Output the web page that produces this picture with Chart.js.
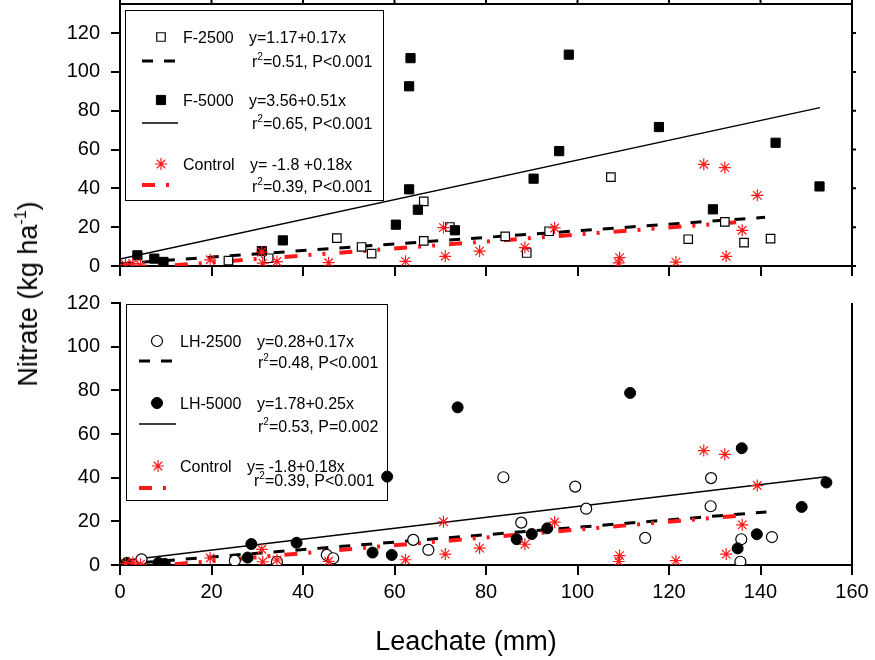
<!DOCTYPE html>
<html>
<head>
<meta charset="utf-8">
<title>Nitrate vs leachate</title>
<script src="https://cdn.jsdelivr.net/npm/chart.js@4.4.0/dist/chart.umd.min.js"></script>
<style>
  body { margin: 0; background: #fff; }
  #wrap { position: relative; width: 875px; height: 660px; overflow: hidden;
          font-family: "Liberation Sans", Arial, sans-serif; color: #000; }
  canvas { position: absolute; left: 0; }
  #topChart { top: -20px; }
  #bottomChart { top: 280px; }
  .axisTitle { position: absolute; font-size: 27px; line-height: 30px; white-space: nowrap; }
  .axisTitle sup { font-size: 16px; line-height: 0; vertical-align: 11px; }
  #yTitle { left: 28px; top: 294px; transform: translate(-50%, -50%) rotate(-90deg); }
  #xTitle { left: 466px; top: 641px; transform: translate(-50%, -50%); }
</style>
</head>
<body>
<div id="wrap">
  <canvas id="topChart" width="875" height="320"></canvas>
  <canvas id="bottomChart" width="875" height="380"></canvas>
  <div id="yTitle" class="axisTitle">Nitrate (kg ha<sup>-1</sup>)</div>
  <div id="xTitle" class="axisTitle">Leachate (mm)</div>
</div>
<script>
// values
const xTicks = [0, 20, 40, 60, 80, 100, 120, 140, 160];
const yTicks = [0, 20, 40, 60, 80, 100, 120];

// control (same points in both panels)
const controlX = [1.2, 2.8, 4.5, 19.7, 31.0, 31.2, 34.3, 45.6, 62.4, 70.7, 71.1, 78.6, 88.5, 95.0, 109.2, 109.0, 121.5, 127.6, 132.2, 139.3, 136.0, 132.5];
const controlY = [0.8, 1.2, 0.4, 3.2, 7.2, 1.5, 2.3, 1.7, 2.4, 19.8, 5.0, 7.7, 9.5, 19.6, 4.3, 1.6, 2.0, 52.4, 50.7, 36.4, 18.4, 5.0];

// top panel
const f2500X = [23.7, 32.5, 47.4, 52.8, 55.0, 66.4, 66.4, 72.1, 84.2, 88.9, 93.8, 107.3, 124.2, 132.2, 136.4, 142.2];
const f2500Y = [2.8, 4.0, 14.4, 9.8, 6.4, 33.3, 12.9, 20.1, 15.3, 6.7, 17.9, 45.8, 13.8, 22.7, 12.0, 14.1];
const f5000X = [3.8, 7.5, 9.5, 31.0, 35.6, 60.3, 63.2, 63.5, 63.2, 65.1, 73.2, 90.4, 96.0, 98.1, 117.8, 129.6, 143.3, 152.9];
const f5000Y = [5.5, 3.8, 2.1, 7.7, 13.2, 21.3, 92.6, 107.1, 39.5, 29.0, 18.4, 45.0, 59.2, 108.9, 71.6, 29.2, 63.5, 41.0];

// bottom panel
const lh2500X = [4.7, 25.1, 34.3, 45.2, 46.6, 64.1, 67.4, 83.8, 87.7, 99.5, 101.9, 114.8, 129.2, 129.1, 135.8, 135.6, 142.5];
const lh2500Y = [2.6, 2.0, 1.5, 4.6, 3.1, 11.5, 6.9, 40.2, 19.4, 35.9, 25.8, 12.4, 39.8, 26.9, 11.8, 1.5, 12.8];
const lh5000X = [1.5, 8.4, 9.8, 27.9, 28.7, 38.6, 55.2, 58.4, 59.4, 73.8, 86.7, 90.0, 93.4, 111.5, 135.0, 135.9, 139.2, 149.0, 154.4];
const lh5000Y = [1.0, 1.0, 0.5, 3.4, 9.6, 10.2, 5.7, 40.5, 4.6, 72.2, 11.8, 14.2, 16.8, 78.8, 7.6, 53.5, 14.1, 26.6, 37.8];

// regression lines, end points
const fitF2500X = [0, 141], fitF2500Y = [1.17, 25.1];
const fitF5000X = [0, 153], fitF5000Y = [3.56, 81.6];
const fitControlX = [0, 137], fitControlY = [-1.8, 22.9];
const fitLH2500X = [0, 141.3], fitLH2500Y = [0.28, 24.3];
const fitLH5000X = [0, 154.4], fitLH5000Y = [1.78, 40.4];

// legend texts
const topLabels = ['F-2500', 'F-5000', 'Control'];
const topEquations = ['y=1.17+0.17x', 'y=3.56+0.51x', 'y= -1.8 +0.18x'];
const topStats = ['=0.51, P<0.001', '=0.65, P<0.001', '=0.39, P<0.001'];
const bottomLabels = ['LH-2500', 'LH-5000', 'Control'];
const bottomEquations = ['y=0.28+0.17x', 'y=1.78+0.25x', 'y= -1.8+0.18x'];
const bottomStats = ['=0.48, P<0.001', '=0.53, P=0.002', '=0.39, P<0.001'];

const FONT = '"Liberation Sans", Arial, sans-serif';
const RED = '#ff1a1a';

const pts = (xs, ys) => xs.map((x, i) => ({ x: x, y: ys[i] }));

const markerOf = {
  openSquare: { style: 'rect', r: 6, fill: '#fff', stroke: '#000', lw: 1.2 },
  fillSquare: { style: 'rect', r: 6.5, fill: '#000', stroke: '#000', lw: 1 },
  star: { style: 'star', r: 6, fill: RED, stroke: RED, lw: 1.2 },
  openCircle: { style: 'circle', r: 5.5, fill: '#fff', stroke: '#000', lw: 1.2 },
  fillCircle: { style: 'circle', r: 5.5, fill: '#000', stroke: '#000', lw: 1 }
};
const lineOf = {
  dash: { color: '#000', width: 3, dash: [11, 11] },
  solid: { color: '#000', width: 1.5, dash: [] },
  dashDot: { color: RED, width: 4, dash: [13, 11, 3, 11, 3, 14] }
};

function scatterSet(label, xs, ys, m) {
  const mk = markerOf[m];
  return {
    label: label, data: pts(xs, ys), pointStyle: mk.style, pointRadius: mk.r,
    backgroundColor: mk.fill, borderColor: mk.stroke, borderWidth: mk.lw, showLine: false
  };
}
function fitSet(xs, ys, l) {
  const ln = lineOf[l];
  return {
    type: 'line', data: pts(xs, ys), showLine: true, pointRadius: 0, fill: false,
    borderColor: ln.color, borderWidth: ln.width, borderDash: ln.dash, tension: 0
  };
}

function drawMarker(ctx, m, x, y) {
  const mk = markerOf[m];
  ctx.save();
  ctx.fillStyle = mk.fill; ctx.strokeStyle = mk.stroke; ctx.lineWidth = mk.lw;
  ctx.beginPath();
  if (mk.style === 'rect') {
    const s = mk.r * Math.SQRT1_2;
    ctx.rect(x - s, y - s, 2 * s, 2 * s); ctx.fill(); ctx.stroke();
  } else if (mk.style === 'circle') {
    ctx.arc(x, y, mk.r, 0, Math.PI * 2); ctx.fill(); ctx.stroke();
  } else {
    for (let k = 0; k < 4; k++) {
      const a = k * Math.PI / 4;
      ctx.moveTo(x - mk.r * Math.cos(a), y - mk.r * Math.sin(a));
      ctx.lineTo(x + mk.r * Math.cos(a), y + mk.r * Math.sin(a));
    }
    ctx.stroke();
  }
  ctx.restore();
}

// frame + mirror ticks + legend box, drawn in page coordinates
const panelPlugin = {
  id: 'panel',
  beforeDatasetsDraw(chart, args, o) {
    const ctx = chart.ctx;
    const lg = o.legend;
    ctx.save();
    ctx.translate(0, -o.pageTop);
    ctx.fillStyle = '#fff';
    ctx.fillRect(lg.box[0], lg.box[1], lg.box[2] - lg.box[0], lg.box[3] - lg.box[1]);
    ctx.strokeStyle = '#000'; ctx.lineWidth = 1;
    ctx.strokeRect(lg.box[0] + 0.5, lg.box[1] + 0.5, lg.box[2] - lg.box[0], lg.box[3] - lg.box[1]);
    ctx.fillStyle = '#000';
    ctx.textBaseline = 'alphabetic';
    for (let i = 0; i < lg.labels.length; i++) {
      drawMarker(ctx, lg.markers[i], lg.markerX[i], lg.rowY[i]);
      ctx.font = '16px ' + FONT;
      ctx.fillStyle = '#000';
      ctx.fillText(lg.labels[i], lg.labelX, lg.rowY[i] + 6);
      ctx.fillText(lg.equations[i], lg.eqX[i], lg.rowY[i] + 6);
      // r² line
      const sx = lg.statX[i], sy = lg.statY[i] + 6;
      ctx.fillText('r', sx, sy);
      const rw = ctx.measureText('r').width;
      ctx.font = '10px ' + FONT;
      ctx.fillText('2', sx + rw, sy - 7);
      const tw = ctx.measureText('2').width;
      ctx.font = '16px ' + FONT;
      ctx.fillText(lg.stats[i], sx + rw + tw, sy);
      // line sample
      const ln = lineOf[lg.lines[i]];
      ctx.save();
      ctx.strokeStyle = ln.color; ctx.lineWidth = ln.width; ctx.setLineDash(ln.dash);
      ctx.beginPath();
      ctx.moveTo(lg.sampleX[0], lg.sampleY[i]); ctx.lineTo(lg.sampleX[1], lg.sampleY[i]);
      ctx.stroke();
      ctx.restore();
    }
    ctx.restore();
  },
  afterDraw(chart, args, o) {
    const { ctx, chartArea: a, scales } = chart;
    ctx.save();
    ctx.strokeStyle = '#000'; ctx.lineWidth = 2;
    ctx.beginPath();
    ctx.moveTo(a.right, a.top - (o.boxed ? 1 : 0)); ctx.lineTo(a.right, a.bottom);
    if (o.boxed) {
      ctx.moveTo(a.left - 1, a.top); ctx.lineTo(a.right + 1, a.top);
      scales.x.ticks.forEach(t => {
        const px = scales.x.getPixelForValue(t.value);
        ctx.moveTo(px, a.top); ctx.lineTo(px, a.top - 4);
      });
      scales.y.ticks.forEach(t => {
        const py = scales.y.getPixelForValue(t.value);
        ctx.moveTo(a.right, py); ctx.lineTo(a.right + 4, py);
      });
    }
    ctx.stroke();
    ctx.restore();
  }
};

function axisBase(ticks, tickLen) {
  return {
    type: 'linear',
    afterBuildTicks: s => { s.ticks = ticks.map(v => ({ value: v })); },
    grid: { display: true, drawOnChartArea: false, drawTicks: true, tickLength: tickLen, color: '#000', lineWidth: 2 },
    border: { display: true, color: '#000', width: 2 },
    ticks: { color: '#000', font: { family: FONT, size: 20 } }
  };
}

function makePanel(id, cfg) {
  const x = axisBase(xTicks, 10);
  x.min = 0; x.max = 160;
  x.afterFit = s => { s.height = cfg.xHeight; };
  x.ticks.display = cfg.xLabels;
  x.ticks.padding = 5;
  x.ticks.maxRotation = 0;
  const y = axisBase(yTicks, 9);
  y.min = 0; y.max = cfg.yMax;
  y.afterFit = s => { s.width = 120; };
  y.ticks.padding = 11;

  return new Chart(document.getElementById(id), {
    type: 'scatter',
    data: { datasets: cfg.datasets },
    options: {
      responsive: false, animation: false, devicePixelRatio: 1, events: [],
      layout: { padding: { left: 0, right: 23, top: cfg.padTop, bottom: cfg.padBottom } },
      scales: { x: x, y: y },
      plugins: {
        legend: { display: false }, tooltip: { enabled: false },
        panel: { pageTop: cfg.pageTop, boxed: cfg.boxed, legend: cfg.legend }
      }
    },
    plugins: [panelPlugin]
  });
}

makePanel('topChart', {
  pageTop: -20, padTop: 24, padBottom: 24, xHeight: 10, xLabels: false, yMax: 135, boxed: true,
  datasets: [
    scatterSet('Control', controlX, controlY, 'star'),
    scatterSet('F-5000', f5000X, f5000Y, 'fillSquare'),
    scatterSet('F-2500', f2500X, f2500Y, 'openSquare'),
    fitSet(fitControlX, fitControlY, 'dashDot'),
    fitSet(fitF5000X, fitF5000Y, 'solid'),
    fitSet(fitF2500X, fitF2500Y, 'dash')
  ],
  legend: {
    box: [125, 10, 383, 200],
    labels: topLabels, equations: topEquations, stats: topStats,
    markers: ['openSquare', 'fillSquare', 'star'], lines: ['dash', 'solid', 'dashDot'],
    rowY: [37, 100, 164], statY: [61, 123, 186], sampleY: [61, 123, 185],
    markerX: [161, 161, 161], labelX: 183, eqX: [249, 249, 250], statX: [252, 252, 252],
    sampleX: [142, 178]
  }
});

makePanel('bottomChart', {
  pageTop: 280, padTop: 23, padBottom: 0, xHeight: 95, xLabels: true, yMax: 120, boxed: false,
  datasets: [
    scatterSet('Control', controlX, controlY, 'star'),
    scatterSet('LH-5000', lh5000X, lh5000Y, 'fillCircle'),
    scatterSet('LH-2500', lh2500X, lh2500Y, 'openCircle'),
    fitSet(fitControlX, fitControlY, 'dashDot'),
    fitSet(fitLH5000X, fitLH5000Y, 'solid'),
    fitSet(fitLH2500X, fitLH2500Y, 'dash')
  ],
  legend: {
    box: [126, 304, 387, 500],
    labels: bottomLabels, equations: bottomEquations, stats: bottomStats,
    markers: ['openCircle', 'fillCircle', 'star'], lines: ['dash', 'solid', 'dashDot'],
    rowY: [341, 403, 466], statY: [362, 426, 480], sampleY: [361, 424, 488],
    markerX: [157, 157, 158], labelX: 180, eqX: [257, 257, 247], statX: [258, 258, 254],
    sampleX: [139, 176]
  }
});
</script>
</body>
</html>
